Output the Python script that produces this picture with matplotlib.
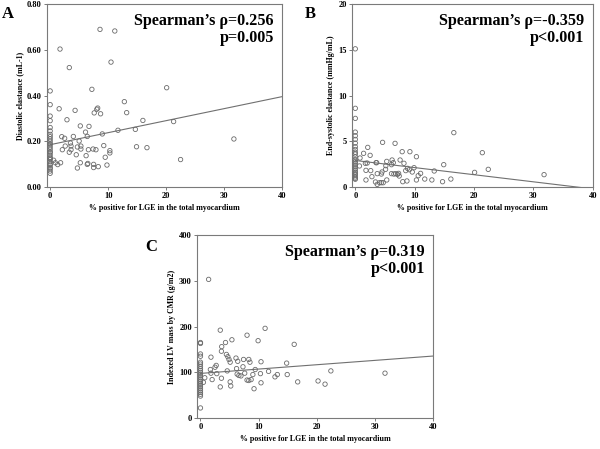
import matplotlib
matplotlib.use("Agg")
import matplotlib.pyplot as plt

plt.rcParams['font.family'] = ['Liberation Serif', 'DejaVu Serif']
plt.rcParams['font.weight'] = 'bold'

# ---------------- Panel A : Diastolic elastance ----------------
a_x = [0]*27 + [8.6, 11.15, 1.7, 3.3, 10.5, 7.2, 20.1, 1.55, 4.3, 12.8, 8.2, 8.05, 7.6, 8.7, 13.2,
       2.9, 16.0, 5.2, 6.7, 21.3, 6.1, 11.7, 14.7, 9.0, 6.4, 4.0, 2.0, 2.5, 31.7, 2.1, 2.6, 3.5,
       3.6, 3.3, 3.6, 5.0, 4.7, 5.3, 5.3, 4.5, 6.2, 6.6, 7.4, 7.9, 9.25, 9.5, 10.3, 10.3, 14.9,
       16.7, 22.5, 0.6, 0.9, 1.3, 1.8, 5.2, 4.7, 6.4, 6.5, 7.5, 7.5, 8.3, 9.8]
a_y = [0.42, 0.36, 0.31, 0.29, 0.26, 0.245, 0.23, 0.22, 0.21, 0.20, 0.19, 0.185, 0.175, 0.165,
       0.155, 0.15, 0.14, 0.13, 0.125, 0.12, 0.11, 0.10, 0.095, 0.085, 0.08, 0.07, 0.06] + \
      [0.689, 0.682, 0.603, 0.522, 0.546, 0.427, 0.434, 0.342, 0.335, 0.373, 0.345, 0.34, 0.324,
       0.32, 0.325, 0.294, 0.291, 0.267, 0.265, 0.286, 0.24, 0.248, 0.252, 0.232, 0.221, 0.221,
       0.22, 0.213, 0.21, 0.163, 0.179, 0.192, 0.179, 0.152, 0.163, 0.201, 0.175, 0.179, 0.166,
       0.141, 0.137, 0.163, 0.166, 0.163, 0.181, 0.13, 0.159, 0.149, 0.176, 0.172, 0.12, 0.117,
       0.106, 0.098, 0.106, 0.106, 0.083, 0.099, 0.103, 0.099, 0.085, 0.089, 0.096]
a_fit_x = [0, 40]
a_fit_y = [0.185, 0.395]

# ---------------- Panel B : End-systolic elastance ----------------
b_x = [0]*25 + [16.6, 4.6, 6.7, 2.1, 21.4, 1.4, 7.9, 9.2, 2.5, 0.8, 10.3, 6.2, 7.55, 5.3, 1.7,
       2.0, 3.5, 3.6, 6.4, 8.2, 0.7, 5.15, 6.1, 14.9, 8.8, 9.9, 8.5, 9.1, 9.6, 1.8, 2.6, 4.5,
       5.1, 22.4, 13.3, 20.1, 6.8, 7.1, 7.3, 7.4, 6.1, 6.5, 11.0, 10.6, 31.8, 3.7, 4.4, 2.8,
       1.8, 5.3, 8.0, 8.7, 10.3, 11.7, 12.9, 14.7, 16.1, 3.4, 3.7, 4.1, 4.4, 4.7]
b_y = [15.1, 8.6, 7.5, 6.0, 5.6, 5.2, 4.8, 4.4, 4.1, 3.8, 3.6, 3.3, 3.0, 2.8, 2.6, 2.4, 2.2,
       2.0, 1.8, 1.6, 1.45, 1.3, 1.1, 0.95, 0.85] + \
      [5.94, 4.88, 4.77, 4.33, 3.75, 3.68, 3.86, 3.86, 3.46, 3.17, 3.31, 2.95, 2.95, 2.8, 2.59,
       2.62, 2.66, 2.66, 2.66, 2.59, 2.3, 2.33, 2.44, 2.44, 2.04, 2.11, 1.79, 1.89, 1.64, 1.82,
       1.79, 1.64, 1.93, 1.93, 1.75, 1.6, 1.46, 1.38, 1.49, 1.2, 1.46, 1.42, 1.49, 1.24, 1.35,
       1.46, 1.42, 1.13, 0.77, 0.77, 0.58, 0.66, 0.77, 0.87, 0.77, 0.58, 0.87, 0.55, 0.29,
       0.47, 0.47, 0.47]
b_fit_x = [0, 40]
b_fit_y = [2.9, -0.21]

# ---------------- Panel C : Indexed LV mass ----------------
c_x = [0]*24 + [1.4, 11.1, 3.4, 8.0, 5.4, 9.9, 4.3, 16.1, 3.65, 4.45, 3.6, 4.7, 1.8, 6.1, 4.9,
       7.4, 8.3, 5.1, 6.4, 8.5, 10.4, 14.8, 2.7, 2.5, 7.3, 4.6, 6.2, 9.4, 22.4, 1.7, 11.7, 1.8,
       2.8, 0.74, 2.0, 3.6, 6.3, 6.6, 6.95, 7.6, 9.0, 10.3, 13.2, 12.8, 14.9, 31.7, 0.5, 5.1,
       8.0, 8.3, 8.7, 10.4, 16.7, 20.2, 21.4, 3.4, 5.2, 9.2]
c_y = [165, 163, 140, 135, 122, 118, 113, 108, 104, 100, 96, 92, 88, 84, 80, 76, 72, 68, 64,
       60, 56, 52, 48, 22] + \
      [303, 196, 192, 181, 171, 169, 165, 161, 156, 139, 146, 134, 133, 131, 128, 128, 128,
       122, 124, 122, 123, 120, 115, 111, 112, 103, 108, 106, 103, 106, 102, 98, 97, 88, 84,
       87, 96, 93, 92, 98, 95, 97, 95, 90, 95, 98, 78, 79, 83, 82, 84, 77, 79, 81, 74, 68, 70, 64]
c_fit_x = [0, 40]
c_fit_y = [97.5, 135.5]

x_label = "% positive for LGE in the total myocardium"
x_ticks = [0, 10, 20, 30, 40]

H = 449.0
panels = [
    dict(rect=[0.0778, 0.5835, 0.3922, 0.4076], x=a_x, y=a_y, fx=a_fit_x, fy=a_fit_y,
         ylim=(0, 0.8), yticks=[0.0, 0.2, 0.4, 0.6, 0.8], yfmt="{:.2f}",
         ylabel="Diastolic elastance (mL-1)", letter="A", letter_px=(2, 18),
         stat=["Spearman\u2019s \u03c1=0.256", "p=0.005"], stat_px=(274, 25)),
    dict(rect=[0.5862, 0.5835, 0.4017, 0.4076], x=b_x, y=b_y, fx=b_fit_x, fy=b_fit_y,
         ylim=(0, 20), yticks=[0, 5, 10, 15, 20], yfmt="{:d}",
         ylabel="End-systolic elastance (mmHg/mL)", letter="B", letter_px=(305, 18),
         stat=["Spearman\u2019s \u03c1=-0.359", "p<0.001"], stat_px=(584, 25)),
    dict(rect=[0.3283, 0.0690, 0.3939, 0.4076], x=c_x, y=c_y, fx=c_fit_x, fy=c_fit_y,
         ylim=(0, 400), yticks=[0, 100, 200, 300, 400], yfmt="{:d}",
         ylabel="Indexed LV mass by CMR (g/m2)", letter="C", letter_px=(145, 251),
         stat=["Spearman\u2019s \u03c1=0.319", "p<0.001"], stat_px=(425, 256)),
]

fig = plt.figure(figsize=(6.0, 4.49), dpi=100)
gray = "#7a7a7a"
for p in panels:
    ax = fig.add_axes(p["rect"])
    ax.scatter(p["x"], p["y"], s=10, facecolors="none", edgecolors="#6a6a6a", linewidths=0.6,
               zorder=3, clip_on=False)
    ax.plot(p["fx"], p["fy"], color="#707070", lw=0.8, zorder=2)
    ax.set_xlim(-0.6, 40)
    ax.set_ylim(*p["ylim"])
    ax.set_xticks(x_ticks)
    ax.set_xticklabels([str(t) for t in x_ticks])
    ax.set_yticks(p["yticks"])
    ax.set_yticklabels([p["yfmt"].format(t) for t in p["yticks"]])
    for s in ax.spines.values():
        s.set_color(gray)
        s.set_linewidth(0.8)
    ax.tick_params(axis="both", length=2.5, width=0.7, color=gray, pad=1.2, labelsize=6)
    for lab in ax.get_xticklabels() + ax.get_yticklabels():
        lab.set_fontweight("bold")
    ax.set_xlabel(x_label, fontsize=5.7, fontweight="bold", labelpad=2.5)
    ax.set_ylabel(p["ylabel"], fontsize=5.7, fontweight="bold", labelpad=2)
    sx, sy = p["stat_px"]
    fig.text(sx / 600, 1 - sy / H, p["stat"][0], ha="right", va="baseline",
             fontsize=11.6, fontweight="bold")
    fig.text(sx / 600, 1 - (sy + 17) / H, p["stat"][1], ha="right", va="baseline",
             fontsize=11.6, fontweight="bold")
    lx, ly = p["letter_px"]
    fig.text(lx / 600, 1 - ly / H, p["letter"], ha="left", va="baseline",
             fontsize=12, fontweight="bold")

fig.savefig("out.png", dpi=100)
